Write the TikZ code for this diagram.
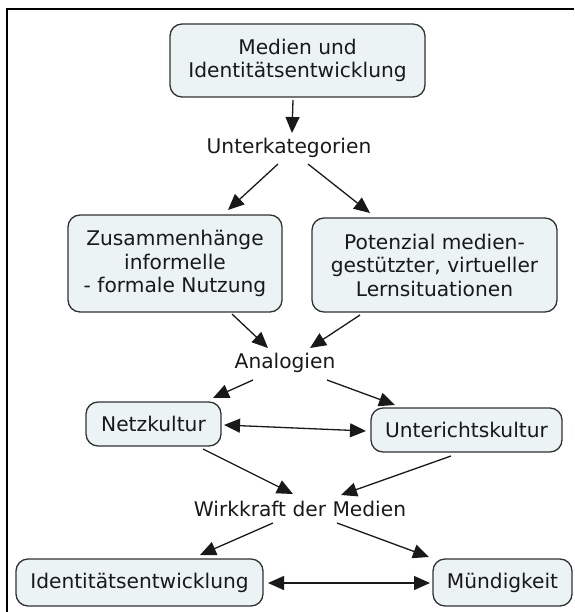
\documentclass[tikz,border=0pt]{standalone}
\usepackage{fontspec}
\setmainfont{DejaVu Sans}
\usetikzlibrary{arrows.meta}
\definecolor{boxfill}{RGB}{235,243,245}
\definecolor{boxline}{RGB}{50,50,50}
\definecolor{ink}{RGB}{25,25,25}
\begin{document}
\begin{tikzpicture}[x=1pt,y=-1pt,
  every node/.style={font=\fontsize{20.2}{23.5}\selectfont, text=ink},
  concept/.style={draw=boxline, fill=boxfill, line width=1.3pt,
    rounded corners=12pt, inner sep=0pt, align=center},
  linkword/.style={inner sep=0pt},
  arr/.style={draw=ink, line width=1.3pt, -{Triangle[length=16pt,width=14pt]}},
  biarr/.style={draw=ink, line width=1.3pt,
    {Triangle[length=16pt,width=14pt]}-{Triangle[length=16pt,width=14pt]}}]
\useasboundingbox (0,0) rectangle (574,612);

% outer frame (left and top edges)
\draw[line width=2pt] (6.5,612) -- (6.5,9.5) -- (574,9.5);

% concepts
\node[concept, minimum width=255pt, minimum height=73pt] (media) at (297.5,60.5)
  {Medien und\\Identitätsentwicklung};
\node[concept, minimum width=214pt, minimum height=97pt] (zus) at (175,263.5)
  {Zusammenhänge\\informelle\\- formale Nutzung};
\node[concept, minimum width=245pt, minimum height=94pt] (pot) at (434.5,265)
  {Potenzial medien-\\gestützter, virtueller\\Lernsituationen};
\node[concept, minimum width=135pt, minimum height=44pt] (netz) at (153.5,424)
  {Netzkultur};
\node[concept, minimum width=191pt, minimum height=44pt] (unt) at (466.5,430)
  {Unterichtskultur};
\node[concept, minimum width=247pt, minimum height=47pt] (ident) at (139.5,582.5)
  {Identitätsentwicklung};
\node[concept, minimum width=139pt, minimum height=47pt] (muend) at (502.5,582.5)
  {Mündigkeit};

% linking phrases
\node[linkword] (unterk) at (289,148) {Unterkategorien};
\node[linkword] (analog) at (285,363) {Analogien};
\node[linkword] (wirk) at (300,509) {Wirkkraft der Medien};

% connectors
\draw[arr] ([shift={(-4.5,39.5)}]media.center) -- ([shift={(3,-15)}]unterk.center);
\draw[arr] ([shift={(-11,16)}]unterk.center) -- ([shift={(53,-53.5)}]zus.center);
\draw[arr] ([shift={(19,16)}]unterk.center) -- ([shift={(-64.5,-52)}]pot.center);
\draw[arr] ([shift={(57,50.5)}]zus.center) -- ([shift={(-17,-15)}]analog.center);
\draw[arr] ([shift={(-74.5,50)}]pot.center) -- ([shift={(25,-15)}]analog.center);
\draw[arr] ([shift={(-32,17)}]analog.center) -- ([shift={(59.5,-26)}]netz.center);
\draw[arr] ([shift={(42,17)}]analog.center) -- ([shift={(-71.5,-25)}]unt.center);
\draw[biarr] ([shift={(70.5,1)}]netz.center) -- ([shift={(-100.5,1)}]unt.center);
\draw[arr] ([shift={(49.5,25)}]netz.center) -- ([shift={(-7,-15)}]wirk.center);
\draw[arr] ([shift={(-15.5,26)}]unt.center) -- ([shift={(41,-14)}]wirk.center);
\draw[arr] ([shift={(-27,14)}]wirk.center) -- ([shift={(60.5,-27.5)}]ident.center);
\draw[arr] ([shift={(37,14)}]wirk.center) -- ([shift={(-73.5,-25.5)}]muend.center);
\draw[biarr] ([shift={(128.5,0.5)}]ident.center) -- ([shift={(-72.5,0.5)}]muend.center);
\end{tikzpicture}
\end{document}
